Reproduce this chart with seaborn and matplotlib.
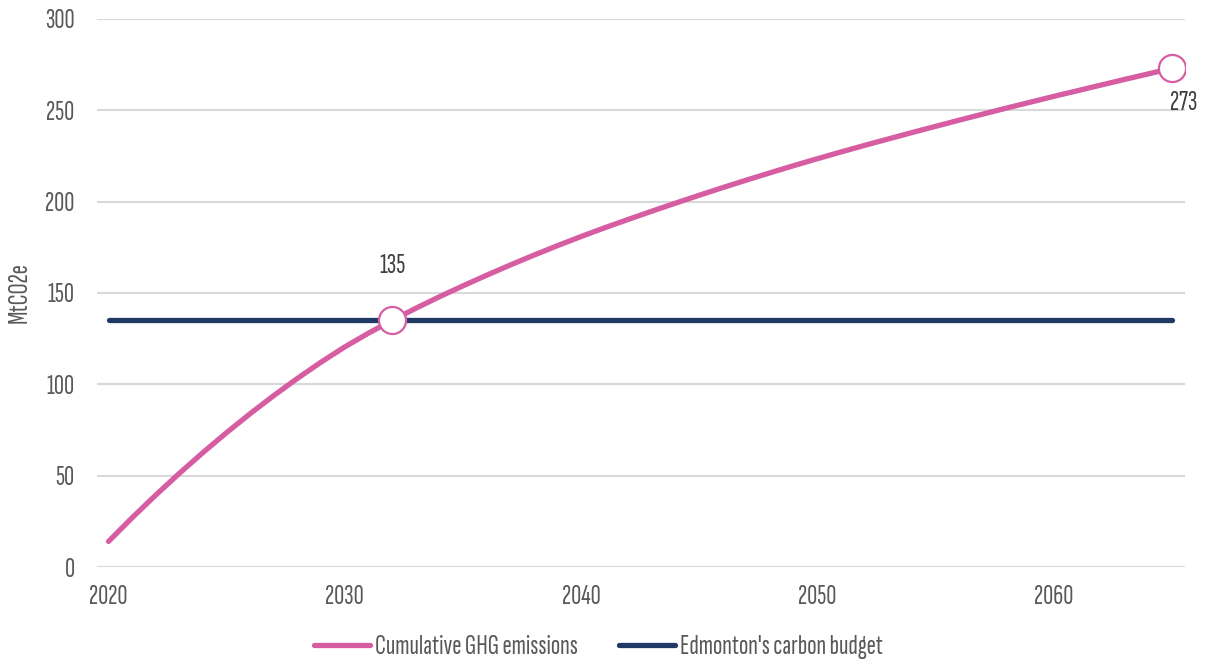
import matplotlib
matplotlib.use("Agg")
import matplotlib.pyplot as plt
import seaborn as sns
import pandas as pd
from matplotlib import font_manager

years = list(range(2020, 2066))
cumulative_ghg = [14.0, 27.0, 39.4, 51.3, 62.7, 73.6, 84.0, 93.9, 103.3, 112.2,
                  120.5, 128.0, 135.0, 141.6, 147.9, 153.9, 159.7, 165.3, 170.7, 175.9,
                  180.9, 185.7, 190.3, 194.8, 199.2, 203.5, 207.7, 211.8, 215.8, 219.7,
                  223.5, 227.2, 230.8, 234.3, 237.8, 241.2, 244.6, 247.9, 251.2, 254.4,
                  257.6, 260.7, 263.8, 266.9, 269.9, 273.0]
carbon_budget = 135
highlight_years = [2032, 2065]
highlight_values = [135, 273]
series_names = ["Cumulative GHG emissions", "Edmonton's carbon budget"]
y_ticks = [0, 50, 100, 150, 200, 250, 300]
x_ticks = [2020, 2030, 2040, 2050, 2060]

sns.set_theme(style="white")
avail = {f.name for f in font_manager.fontManager.ttflist}
fam = next((c for c in ["Saira Extra Condensed", "Sofia Sans Extra Condensed",
                        "Barlow Condensed"] if c in avail), "DejaVu Sans")
plt.rcParams["font.family"] = [fam, "DejaVu Sans"]
fs = 20

text_color = "#595959"
pink = "#D65DA1"
navy = "#1F3864"

df = pd.DataFrame({
    "year": years * 2,
    "value": cumulative_ghg + [carbon_budget] * len(years),
    "series": [series_names[0]] * len(years) + [series_names[1]] * len(years),
})

fig = plt.figure(figsize=(12.09, 6.59), dpi=100)
ax = fig.add_axes([0.0802, 0.1396, 0.8999, 0.8316])

for ytk in y_ticks:
    ax.axhline(ytk, color="#D9D9D9", lw=1.5, zorder=0)

sns.lineplot(data=df[df.series == series_names[1]], x="year", y="value",
             color=navy, lw=3.8, ax=ax, label=series_names[1], zorder=2,
             solid_capstyle="round")
sns.lineplot(data=df[df.series == series_names[0]], x="year", y="value",
             color=pink, lw=3.8, ax=ax, label=series_names[0], zorder=3,
             solid_capstyle="round")

ax.scatter(highlight_years, highlight_values, s=380, facecolor="white",
           edgecolor=pink, linewidth=1.6, zorder=4)
ax.text(highlight_years[0], highlight_values[0] + 30, f"{highlight_values[0]}",
        ha="center", va="center", fontsize=fs, color="#404040")
ax.text(highlight_years[1] + 0.5, highlight_values[1] - 19, f"{highlight_values[1]}",
        ha="center", va="center", fontsize=fs, color="#404040")

ax.set_xlim(2019.51, 2065.56)
ax.set_ylim(0, 300)
ax.set_xticks(x_ticks)
ax.set_yticks(y_ticks)
ax.tick_params(axis="both", length=0, labelsize=fs, labelcolor=text_color)
ax.tick_params(axis="x", pad=13)
ax.tick_params(axis="y", pad=16)
ax.set_xlabel("")
ax.set_ylabel("MtCO2e", fontsize=fs, color=text_color, labelpad=10)
for s in ax.spines.values():
    s.set_visible(False)

handles, labels = ax.get_legend_handles_labels()
order = [labels.index(n) for n in series_names]
ax.legend([handles[i] for i in order], [labels[i] for i in order],
          loc="center", bbox_to_anchor=(0.461, -0.146), ncol=2, frameon=False,
          fontsize=fs, labelcolor=text_color, handlelength=2.0,
          handletextpad=0.18, columnspacing=1.5)

fig.savefig("out.png", dpi=100)
